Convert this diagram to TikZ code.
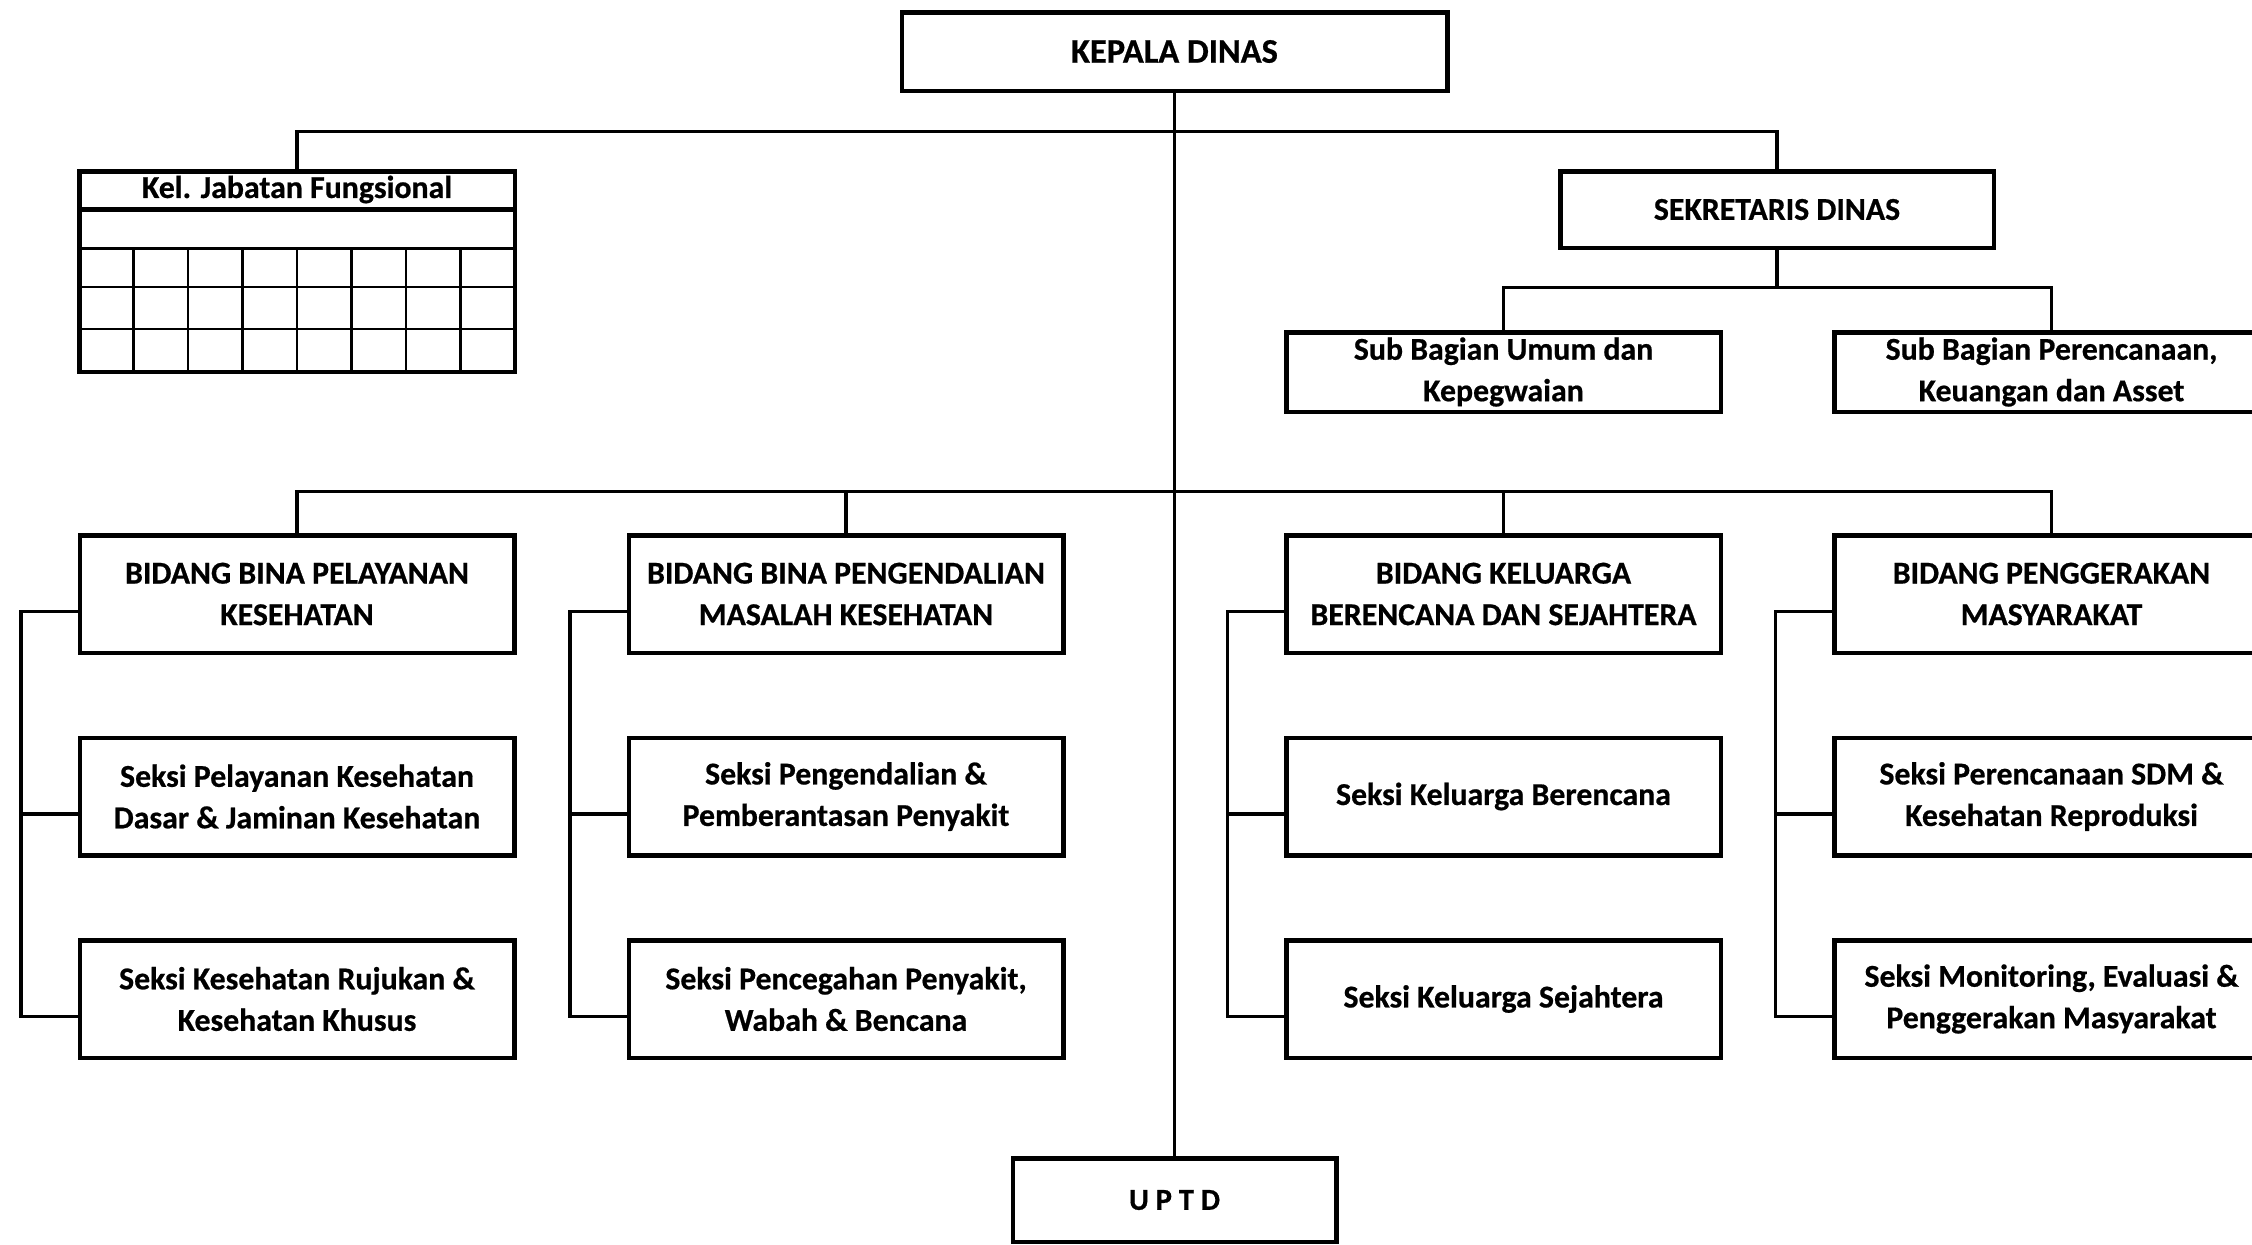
\documentclass[tikz,border=0pt]{standalone}
\usepackage{fontspec}
\setmainfont{Carlito}[BoldFeatures={FakeBold=0.6}]
\usetikzlibrary{calc}
\begin{document}
\begin{tikzpicture}[x=1pt,y=-1pt,
  box/.style={draw=black,line width=4.5pt,fill=white,align=center,inner sep=0pt,
    font=\fontsize{31.8}{41.5}\selectfont\bfseries},
  bidbox/.style={box,minimum width=434.5pt,minimum height=117.5pt},
  subbox/.style={box,minimum width=434.5pt,minimum height=79.5pt},
  conn/.style={draw=black,line width=3.2pt},
  gridthin/.style={draw=black,line width=2.6pt}]
\fill[white] (0,0) rectangle (2252,1245);
\useasboundingbox (0,0) rectangle (2252,1245);

% top
\node[box,minimum width=545.5pt,minimum height=78.5pt,font=\fontsize{34.5}{41.5}\selectfont\bfseries] (kd) at (1174.5,51.5) {KEPALA DINAS};

% jabatan fungsional
\node[draw=black,line width=4.5pt,minimum width=435.5pt,minimum height=200.5pt,inner sep=0pt] (jab) at (297,271.5) {};
\node[font=\fontsize{31.8}{41.5}\selectfont\bfseries,inner sep=0pt] (jabt) at (297,189.5) {Kel. Jabatan Fungsional};
\draw[line width=4.5pt] (jab.west |- 0,209.5) -- (jab.east |- 0,209.5);
\draw[gridthin] (jab.west |- 0,248.5) -- (jab.east |- 0,248.5);
\foreach \yy in {287,329}
  \draw[gridthin] (jab.west |- 0,\yy) -- (jab.east |- 0,\yy);
\foreach \k in {1,...,7}
  \draw[gridthin] ({79.25+\k*54.44},248.5) -- ({79.25+\k*54.44},371.75);

% sekretaris
\node[box,minimum width=433.5pt,minimum height=76.5pt] (sek) at (1777,209.5) {SEKRETARIS DINAS};
\node[subbox] (sub1) at (1503.5,372) {Sub Bagian Umum dan\\Kepegwaian};
\node[subbox] (sub2) at (2051.5,372) {Sub Bagian Perencanaan,\\Keuangan dan Asset};

% bidang columns
\node[bidbox] (b11) at (297,594) {BIDANG BINA PELAYANAN\\KESEHATAN};
\node[bidbox] (b12) at (297,796.5) {Seksi Pelayanan Kesehatan\\Dasar \& Jaminan Kesehatan};
\node[bidbox] (b13) at (297,999) {Seksi Kesehatan Rujukan \&\\Kesehatan Khusus};

\node[bidbox] (b21) at (846,594) {BIDANG BINA PENGENDALIAN\\MASALAH KESEHATAN};
\node[bidbox] (b22) at (846,796.5) {Seksi Pengendalian \&\\Pemberantasan Penyakit};
\node[bidbox] (b23) at (846,999) {Seksi Pencegahan Penyakit,\\Wabah \& Bencana};

\node[bidbox] (b31) at (1503.5,594) {BIDANG KELUARGA\\BERENCANA DAN SEJAHTERA};
\node[bidbox] (b32) at (1503.5,796.5) {Seksi Keluarga Berencana};
\node[bidbox] (b33) at (1503.5,999) {Seksi Keluarga Sejahtera};

\node[bidbox] (b41) at (2051.5,594) {BIDANG PENGGERAKAN\\MASYARAKAT};
\node[bidbox] (b42) at (2051.5,796.5) {Seksi Perencanaan SDM \&\\Kesehatan Reproduksi};
\node[bidbox] (b43) at (2051.5,999) {Seksi Monitoring, Evaluasi \&\\Penggerakan Masyarakat};

% uptd
\node[box,minimum width=323.5pt,minimum height=83.5pt,font=\fontsize{30.5}{41.5}\selectfont\bfseries] (uptd) at (1174.5,1200) {U P T D};

% connectors
\coordinate (topbus) at (0,131.5);
\coordinate (sekbus) at (0,287.5);
\coordinate (mainbus) at (0,491.5);

\draw[conn] (kd.south) -- (uptd.north);
\draw[conn] (jab.north) -- (jab.north |- topbus) -- (sek.north |- topbus) -- (sek.north);
\draw[conn] (sek.south) -- (sek.south |- sekbus);
\draw[conn] (sub1.north) -- (sub1.north |- sekbus) -- (sub2.north |- sekbus) -- (sub2.north);
\draw[conn] (b11.north) -- (b11.north |- mainbus) -- (b41.north |- mainbus) -- (b41.north);
\draw[conn] (b21.north) -- (b21.north |- mainbus);
\draw[conn] (b31.north) -- (b31.north |- mainbus);
\foreach \c in {1,2,3,4}{
  \foreach \r in {1,2,3}{
    \coordinate (w\c\r) at ([yshift=-17.5pt]b\c\r.west);
  }
}
\foreach \c in {1,2,3,4}{
  \coordinate (t\c) at ([xshift=-56.5pt]w\c1);
  \draw[conn] (w\c1) -- (t\c) -- (t\c |- w\c3) -- (w\c3);
  \draw[conn] (w\c2) -- (t\c |- w\c2);
}
\end{tikzpicture}
\end{document}
